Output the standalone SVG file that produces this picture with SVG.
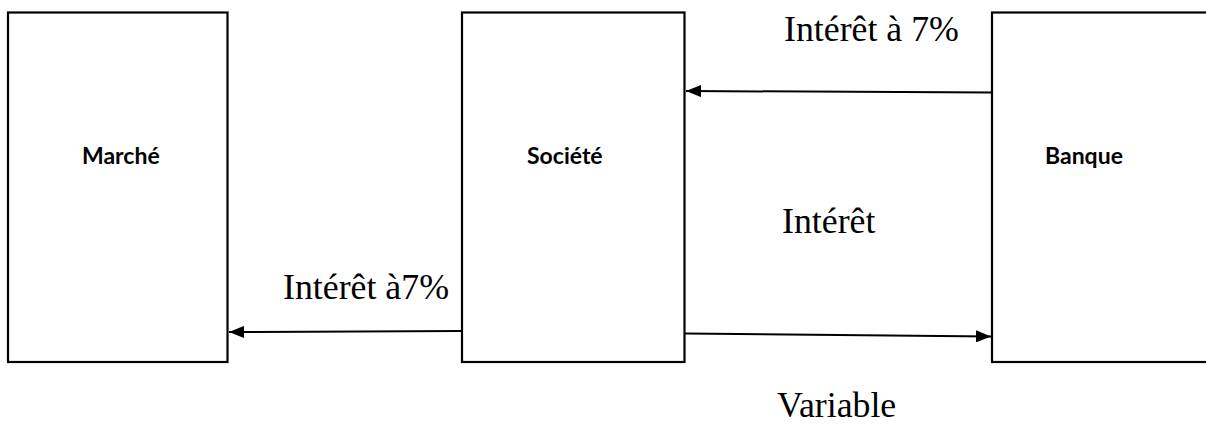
<svg xmlns="http://www.w3.org/2000/svg" width="1206" height="430" viewBox="0 0 1206 430">
<defs>
<style>
.box{fill:#fff;stroke:#000;stroke-width:2.2}
.lbl{font-family:Lato,"Open Sans",sans-serif;font-weight:bold;font-size:23px;fill:#000}
.txt{font-family:"Liberation Serif","Times New Roman",serif;font-size:35.8px;fill:#000}
.con{stroke:#000;stroke-width:2;fill:none;marker-end:url(#ah)}
</style>
<marker id="ah" markerUnits="userSpaceOnUse" markerWidth="16" markerHeight="12" refX="15" refY="6" orient="auto">
<path d="M0,0 L15,6 L0,12 Z" fill="#000"/>
</marker>
</defs>
<rect width="1206" height="430" fill="#fff"/>
<g id="marche">
<rect class="box" x="8" y="12.5" width="219.5" height="349.5"/>
<text class="lbl" x="82" y="164">Marché</text>
</g>
<g id="societe">
<rect class="box" x="462" y="12.5" width="222.5" height="349.5"/>
<text class="lbl" x="527" y="164">Société</text>
</g>
<g id="banque">
<rect class="box" x="992" y="12.5" width="230" height="349.5"/>
<text class="lbl" x="1045" y="164">Banque</text>
</g>
<g id="connectors">
<line class="con" x1="992" y1="92.5" x2="686" y2="91"/>
<line class="con" x1="462" y1="331" x2="229" y2="332"/>
<line class="con" x1="685" y1="333.5" x2="991" y2="336.5"/>
</g>
<g id="labels">
<text class="txt" x="784" y="41">Intérêt à 7%</text>
<text class="txt" x="782" y="233">Intérêt</text>
<text class="txt" x="283" y="299">Intérêt à7%</text>
<text class="txt" x="777" y="417">Variable</text>
</g>
</svg>
